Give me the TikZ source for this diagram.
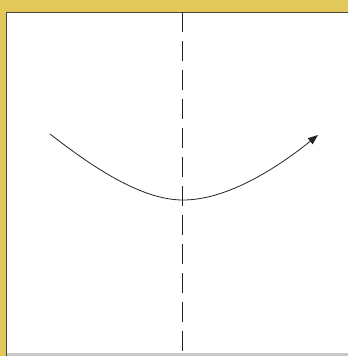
\documentclass[tikz,border=0pt]{standalone}
\usetikzlibrary{arrows.meta}
\definecolor{gold}{RGB}{226,200,90}
\definecolor{frameline}{RGB}{70,70,60}
\definecolor{inkline}{RGB}{35,35,35}
\definecolor{basegrey}{RGB}{200,200,200}
\tikzset{
  guide/.style={draw=inkline, line width=0.9pt, dash pattern=on 20pt off 9pt},
  path curve/.style={draw=inkline, line width=0.8pt, -{Triangle[length=10pt,width=7.5pt]}},
}
\begin{document}
\begin{tikzpicture}[x=1pt,y=-1pt]
\useasboundingbox (0,0) rectangle (348,356);
% golden border
\fill[gold] (0,0) rectangle (348,356);
\fill[white] (6,12) rectangle (348,353);
\fill[basegrey] (6,353) rectangle (348,356);
\draw[frameline, line width=0.8pt] (6,356) -- (6,12) -- (348,12);
% guide line
\coordinate (gtop) at (182,12);
\coordinate (gbot) at (182,353);
\draw[guide] (gtop) -- (gbot);
% curve
\coordinate (s) at (50,134);
\coordinate (m) at (183,200);
\coordinate (e) at (318,135);
\draw[path curve] (s) .. controls (90,165) and (140,200) .. (m)
  .. controls (230,200) and (282,164) .. (e);
\end{tikzpicture}
\end{document}
